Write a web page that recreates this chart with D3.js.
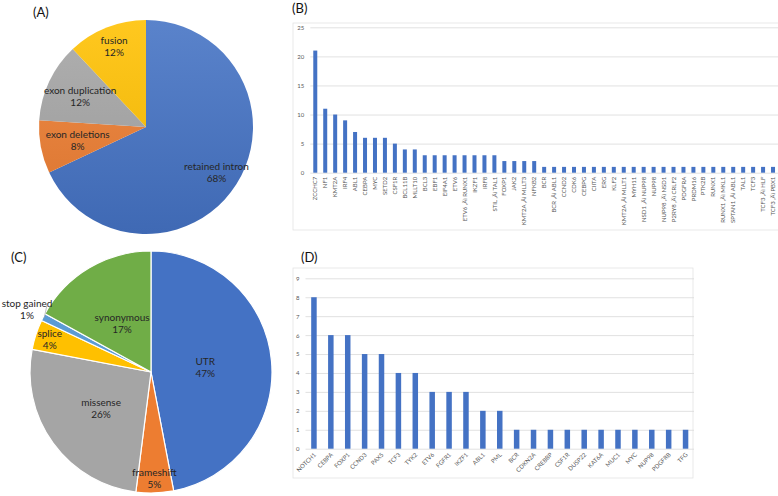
<!DOCTYPE html>
<html>
<head>
<meta charset="utf-8">
<script src="https://cdn.jsdelivr.net/npm/d3@7"></script>
<style>
  body { margin: 0; background: #fff; }
  svg { display: block; font-family: Lato, "Open Sans", sans-serif; }
</style>
</head>
<body>
<svg id="chart" width="778" height="496"></svg>
<script>
/* data */
const pieALabels = ["retained intron", "exon deletions", "exon duplication", "fusion"];
const pieAValues = [68, 8, 12, 12];

const pieCLabels = ["UTR", "frameshift", "missense", "splice", "stop gained", "synonymous"];
const pieCValues = [47, 5, 26, 4, 1, 17];

const D = " \u201A\u00C4\u00EC "; // mangled dash as printed in the figure
const genesB = ["ZCCHC7", "NF1", "KMT2A", "IRF4", "ABL1", "CEBPA", "MYC", "SETD2", "CSF1R", "BCL11B",
  "MLLT10", "BCL3", "EBF1", "EIF4A1", "ETV6", "ETV6" + D + "RUNX1", "IKZF1", "IRF8", "STIL" + D + "TAL1",
  "FOXP1", "JAK2", "KMT2A" + D + "MLLT3", "NFKB2", "BCR", "BCR" + D + "ABL1", "CCND2", "CDK6", "CEBPG",
  "CIITA", "ERG", "KLF2", "KMT2A" + D + "MLLT1", "MYH11", "NSD1" + D + "NUP98", "NUP98", "NUP98" + D + "NSD1",
  "P2RY8" + D + "CRLF2", "PDGFRA", "PRDM16", "PTK2B", "RUNX1", "RUNX1" + D + "MKL1", "SPTAN1" + D + "ABL1",
  "TAL1", "TCF3", "TCF3" + D + "HLF", "TCF3" + D + "PBX1"];
const countsB = [21, 11, 10, 9, 7, 6, 6, 6, 5, 4,
  4, 3, 3, 3, 3, 3, 3, 3, 3,
  2, 2, 2, 2, 1, 1, 1, 1, 1,
  1, 1, 1, 1, 1, 1, 1, 1,
  1, 1, 1, 1, 1, 1, 1,
  1, 1, 1, 1];
const ticksB = [0, 5, 10, 15, 20, 25];

const genesD = ["NOTCH1", "CEBPA", "FOXP1", "CCND3", "PAX5", "TCF3", "TYK2", "ETV6", "FGFR1", "IKZF1",
  "ABL1", "PML", "BCR", "CDKN2A", "CREBBP", "CSF1R", "DUSP22", "KAT6A", "MUC1", "MYC", "NUP98", "PDGFRB", "TFG"];
const countsD = [8, 6, 6, 5, 5, 4, 4, 3, 3, 3, 2, 2, 1, 1, 1, 1, 1, 1, 1, 1, 1, 1, 1];
const ticksD = [0, 1, 2, 3, 4, 5, 6, 7, 8, 9];

/* office palette */
const BLUE = "#4472C4", ORANGE = "#ED7D31", GRAY = "#A5A5A5", GOLD = "#FFC000", LBLUE = "#5B9BD5", GREEN = "#70AD47";

const svg = d3.select("#chart");
const defs = svg.append("defs");

/* soft top-to-bottom shading used on pie (A) */
function shade(id, c) {
  const lg = defs.append("linearGradient").attr("id", id).attr("x1", 0).attr("y1", 0).attr("x2", 0).attr("y2", 1)
    .attr("gradientUnits", "userSpaceOnUse").attr("x1", 0).attr("y1", -107).attr("x2", 0).attr("y2", 107);
  lg.append("stop").attr("offset", "0%").attr("stop-color", d3.interpolateRgb(c, "#fff")(0.12));
  lg.append("stop").attr("offset", "100%").attr("stop-color", d3.interpolateRgb(c, "#000")(0.08));
  return `url(#${id})`;
}

/* panel letters */
[["(A)", 33, 17], ["(B)", 292, 13], ["(C)", 11, 262], ["(D)", 301, 262]].forEach(([t, x, y]) => {
  svg.append("text").attr("x", x).attr("y", y).attr("font-size", 13).attr("fill", "#111").text(t);
});

/* pie helper */
function drawPie(cx, cy, r, labels, values, colors, labelR, stroke) {
  const g = svg.append("g").attr("transform", `translate(${cx},${cy})`);
  const arcs = d3.pie().sort(null).value(d => d)(values);
  const arc = d3.arc().innerRadius(0).outerRadius(r);
  g.selectAll("path").data(arcs).join("path")
    .attr("d", arc)
    .attr("fill", (d, i) => colors[i])
    .attr("stroke", stroke ? "#fff" : "none")
    .attr("stroke-width", 1.2);

  arcs.forEach((d, i) => {
    const a = (d.startAngle + d.endAngle) / 2;
    const lx = Math.sin(a) * r * labelR[i];
    const ly = -Math.cos(a) * r * labelR[i];
    const t = g.append("text").attr("text-anchor", "middle").attr("font-size", 10).attr("fill", "#262626");
    t.append("tspan").attr("x", lx).attr("y", ly - 2).text(labels[i]);
    t.append("tspan").attr("x", lx).attr("y", ly + 10).text(Math.round(values[i]) + "%");
    if (labelR[i] > 1) {
      g.append("polyline")
        .attr("points", [[Math.sin(a) * r * 0.99, -Math.cos(a) * r * 0.99], [lx + 20, ly - 4]].join(" "))
        .attr("fill", "none").attr("stroke", "#a6a6a6").attr("stroke-width", 0.7);
    }
  });
}

drawPie(146, 127, 107, pieALabels, pieAValues,
  [shade("gA0", BLUE), shade("gA1", ORANGE), shade("gA2", GRAY), shade("gA3", GOLD)],
  [0.78, 0.65, 0.68, 0.81], false);
drawPie(151, 372, 121, pieCLabels, pieCValues, [BLUE, ORANGE, GRAY, GOLD, LBLUE, GREEN],
  [0.45, 0.88, 0.51, 0.88, 1.15, 0.47], true);

/* bar chart helper */
function drawBars(o) {
  svg.append("rect").attr("x", o.frame[0]).attr("y", o.frame[1]).attr("width", o.frame[2]).attr("height", o.frame[3])
    .attr("fill", "none").attr("stroke", "#E3E3E3").attr("stroke-width", 0.8);

  const x = d3.scaleBand().domain(o.genes).range(o.xr).paddingInner(o.pad).paddingOuter(o.pad / 2);
  const y = d3.scaleLinear().domain([0, d3.max(o.ticks)]).range(o.yr);

  const grid = svg.append("g").attr("transform", `translate(${o.xr[0]},0)`)
    .call(d3.axisLeft(y).tickValues(o.ticks).tickSize(-(o.xr[1] - o.xr[0])).tickPadding(o.tp));
  grid.select(".domain").remove();
  grid.selectAll("line").attr("stroke", "#D9D9D9").attr("stroke-width", 0.8);
  grid.selectAll("text").attr("fill", "#595959").attr("font-size", 6).attr("font-family", "Lato, sans-serif");

  svg.append("g").selectAll("rect").data(o.genes).join("rect")
    .attr("x", d => x(d) + (x.bandwidth() - o.bw) / 2)
    .attr("width", o.bw)
    .attr("y", (d, i) => y(o.counts[i]))
    .attr("height", (d, i) => y(0) - y(o.counts[i]))
    .attr("fill", BLUE);

  const xa = svg.append("g").attr("transform", `translate(0,${y(0)})`)
    .call(d3.axisBottom(x).tickSize(0));
  xa.select(".domain").remove();
  xa.selectAll("text").attr("fill", "#595959").attr("font-size", 6).attr("font-family", "Lato, sans-serif")
    .attr("text-anchor", "end").attr("x", 0).attr("y", 0).attr("dy", "0.35em")
    .attr("transform", o.rot === -90 ? "translate(0,4) rotate(-90)" : "translate(1,5) rotate(-45)");
}

drawBars({
  frame: [293, 23, 500, 207], xr: [310.3, 778], yr: [172.7, 27.3],
  genes: genesB, counts: countsB, ticks: ticksB, pad: 0.6, bw: 4, tp: 6, rot: -90
});
drawBars({
  frame: [293, 268, 400, 210], xr: [305.5, 694], yr: [448.7, 278.3],
  genes: genesD, counts: countsD, ticks: ticksD, pad: 0.67, bw: 5.5, tp: 6, rot: -45
});
</script>
</body>
</html>
